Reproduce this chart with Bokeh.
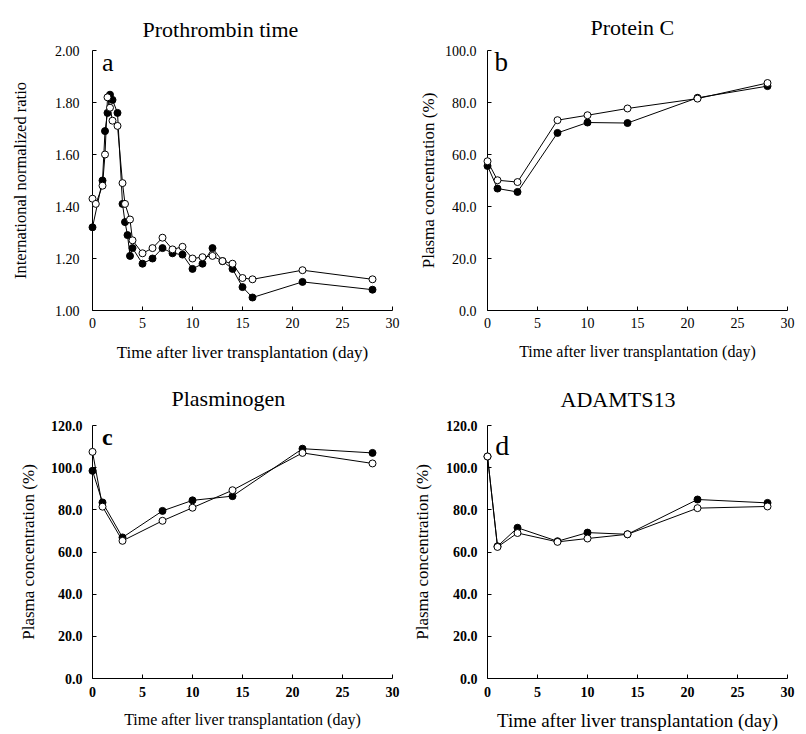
from bokeh.plotting import figure
from bokeh.layouts import gridplot
from bokeh.models import Range1d, FixedTicker, NumeralTickFormatter, Label
from bokeh.embed import file_html
from bokeh.resources import INLINE

FONT = "Liberation Serif"
day_ticks = [0, 5, 10, 15, 20, 25, 30]

# ---- Panel a: Prothrombin time (INR) ----
pt_days_filled = [0, 1, 1.25, 1.5, 1.75, 2, 2.5, 3, 3.25, 3.5, 3.75, 4, 5, 6, 7, 8, 9, 10, 11, 12, 13, 14, 15, 16, 21, 28]
pt_inr_filled = [1.32, 1.50, 1.69, 1.76, 1.83, 1.81, 1.76, 1.41, 1.34, 1.29, 1.21, 1.24, 1.18, 1.20, 1.24, 1.22, 1.215, 1.16, 1.18, 1.24, 1.19, 1.16, 1.09, 1.05, 1.11, 1.08]
pt_days_open = [0, 0.33, 1, 1.25, 1.5, 1.75, 2, 2.5, 3, 3.25, 3.75, 4, 5, 6, 7, 8, 9, 10, 11, 12, 13, 14, 15, 16, 21, 28]
pt_inr_open = [1.43, 1.41, 1.48, 1.60, 1.82, 1.78, 1.73, 1.71, 1.49, 1.41, 1.35, 1.27, 1.22, 1.24, 1.28, 1.235, 1.245, 1.20, 1.205, 1.21, 1.19, 1.18, 1.125, 1.12, 1.155, 1.12]
inr_ticks = [1.00, 1.20, 1.40, 1.60, 1.80, 2.00]

# ---- Panels b-d share sampling days ----
days = [0, 1, 3, 7, 10, 14, 21, 28]
pc_filled = [55.6, 46.9, 45.6, 68.3, 72.3, 72.1, 81.8, 86.3]
pc_open = [57.4, 50.1, 49.4, 73.2, 75.1, 77.7, 81.5, 87.5]
pc_ticks = [0, 20, 40, 60, 80, 100]

plg_filled = [98.5, 83.5, 66.9, 79.5, 84.5, 86.5, 109.0, 107.0]
plg_open = [107.5, 81.5, 65.3, 74.8, 81.0, 89.3, 107.0, 102.0]
adm_filled = [105.3, 62.7, 71.5, 65.1, 69.2, 68.4, 84.9, 83.3]
adm_open = [105.3, 62.4, 69.0, 64.8, 66.4, 68.4, 80.8, 81.6]
pct_ticks = [0, 20, 40, 60, 80, 100, 120]

X_LABEL = "Time after liver transplantation (day)"
Y_PCT = "Plasma concentration (%)"


def panel(size, borders, yr, yticks, yfmt,
          title, title_offset, title_standoff, letter, letter_pos, letter_size, letter_style,
          ylabel, ylabel_size, xlabel_size, tick_style,
          ytick_standoff, ylab_standoff, xtick_standoff, xlab_standoff):
    left, right, top, bottom = borders
    p = figure(width=size[0], height=size[1], x_range=Range1d(0, 30), y_range=Range1d(*yr),
               output_backend="svg", toolbar_location=None,
               min_border_left=left, min_border_right=right,
               min_border_top=top, min_border_bottom=bottom)
    p.outline_line_color = None
    p.grid.visible = False
    p.background_fill_color = "white"
    p.border_fill_color = "white"

    p.title.text = title
    p.title.align = "left"
    p.title.offset = title_offset
    p.title.standoff = title_standoff
    p.title.text_font = FONT
    p.title.text_font_size = "22px"
    p.title.text_font_style = "normal"
    p.title.text_color = "black"

    for ax in (p.xaxis, p.yaxis):
        ax.axis_line_color = "black"
        ax.axis_line_width = 1
        ax.major_tick_in = 4
        ax.major_tick_out = 0
        ax.minor_tick_in = 0
        ax.minor_tick_out = 0
        ax.major_tick_line_color = "black"
        ax.major_label_text_font = FONT
        ax.major_label_text_font_size = "14px"
        ax.major_label_text_font_style = tick_style
        ax.major_label_text_color = "black"
        ax.axis_label_text_font = FONT
        ax.axis_label_text_font_style = "normal"
        ax.axis_label_text_color = "black"

    p.xaxis.ticker = FixedTicker(ticks=day_ticks)
    p.xaxis.major_label_standoff = xtick_standoff
    p.xaxis.axis_label = X_LABEL
    p.xaxis.axis_label_text_font_size = xlabel_size
    p.xaxis.axis_label_standoff = xlab_standoff

    p.yaxis.ticker = FixedTicker(ticks=yticks)
    p.yaxis.formatter = NumeralTickFormatter(format=yfmt)
    p.yaxis.major_label_standoff = ytick_standoff
    p.yaxis.axis_label = ylabel
    p.yaxis.axis_label_text_font_size = ylabel_size
    p.yaxis.axis_label_standoff = ylab_standoff

    # panel letter
    p.add_layout(Label(x=letter_pos[0], y=letter_pos[1], text=letter,
                       text_font=FONT, text_font_size=letter_size,
                       text_font_style=letter_style, text_color="black",
                       text_baseline="alphabetic", level="overlay"))
    return p


def add_series(p, xf, yf, xo, yo):
    p.line(xf, yf, line_color="black", line_width=1, level="overlay")
    p.line(xo, yo, line_color="black", line_width=1, level="overlay")
    p.scatter(xf, yf, marker="circle", size=7, fill_color="black",
              line_color="black", line_width=1, level="overlay")
    p.scatter(xo, yo, marker="circle", size=7, fill_color="white",
              line_color="black", line_width=1, level="overlay")


pa = panel((403, 367), (92, 10, 46, 57), (1.0, 2.0), inr_ticks, "0.00",
           "Prothrombin time", 50, 17, "a", (0.94, 1.953), "26px", "normal",
           "International normalized ratio", "16.5px", "17px", "normal",
           13, 22, 7, 12)
add_series(pa, pt_days_filled, pt_inr_filled, pt_days_open, pt_inr_open)

pb = panel((395, 367), (83, 5, 50, 57), (0, 100), pc_ticks, "0.0",
           "Protein C", 103, 22, "b", (0.71, 95.6), "27px", "normal",
           Y_PCT, "17px", "16px", "normal",
           11, 4, 7, 12)
add_series(pb, days, pc_filled, days, pc_open)

pc = panel((403, 366), (92, 11, 58, 55), (0, 120), pct_ticks, "0.0",
           "Plasminogen", 79, 29, "c", (0.94, 114.4), "24px", "bold",
           Y_PCT, "17px", "16px", "bold",
           10, 10, 8, 11)
add_series(pc, days, plg_filled, days, plg_open)

pd_ = panel((395, 366), (84, 11, 56, 55), (0, 120), pct_ticks, "0.0",
            "ADAMTS13", 73, 27, "d", (0.77, 110.3), "28px", "normal",
            Y_PCT, "17px", "19px", "bold",
            10, 11, 8, 10)
add_series(pd_, days, adm_filled, days, adm_open)

grid = gridplot([[pa, pb], [pc, pd_]], toolbar_location=None)
open("out.html", "w").write(file_html(grid, INLINE))
